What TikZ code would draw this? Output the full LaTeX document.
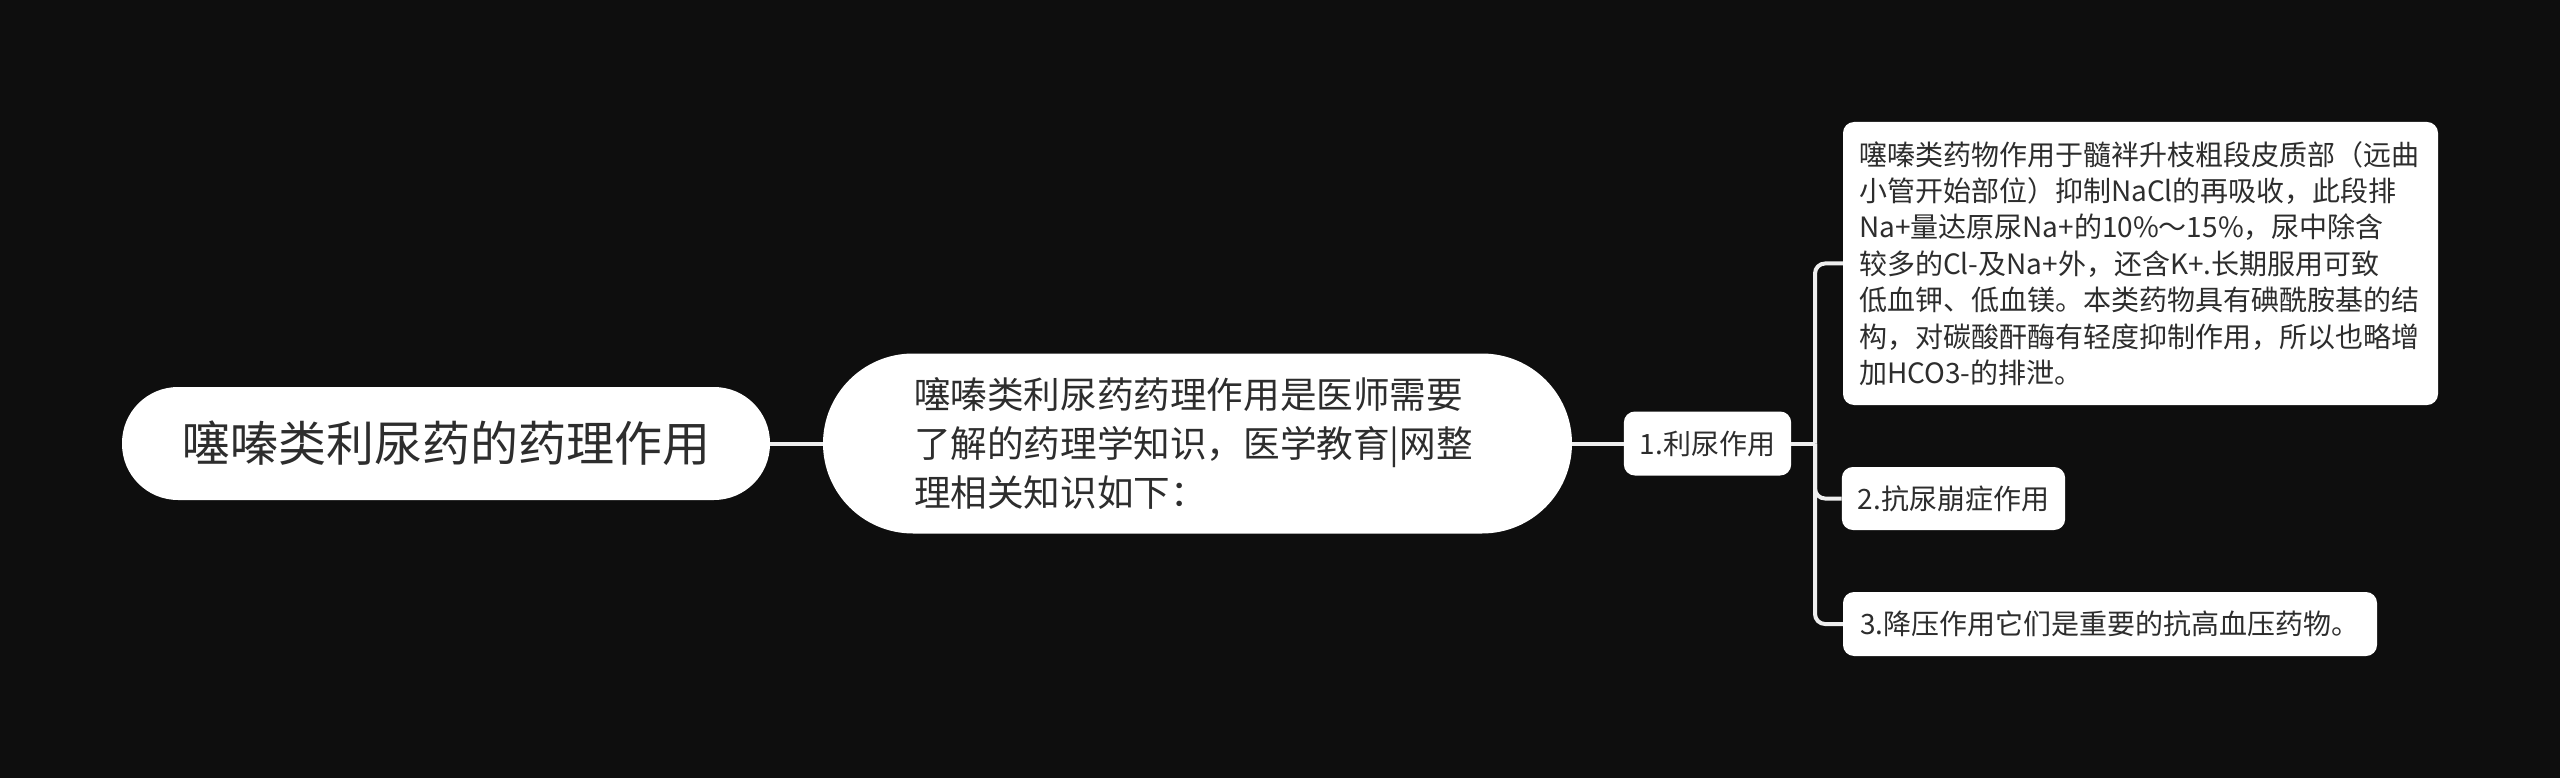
\documentclass[tikz,border=0pt]{standalone}
\usepackage{fontspec}
\newfontfamily\cjk{Noto Sans CJK SC}
\definecolor{bg}{RGB}{14,14,14}
\definecolor{tc}{RGB}{45,45,45}
\definecolor{lc}{RGB}{238,238,238}
\begin{document}
\begin{tikzpicture}[x=1pt,y=-1pt,
  box/.style={fill=white, text=tc, inner sep=0pt},
  rootbox/.style={box, rounded corners=56pt, minimum width=648pt, minimum height=113pt, font=\cjk\fontsize{48}{58}\selectfont},
  midbox/.style={box, rounded corners=90pt, minimum width=749pt, minimum height=180pt, text width=567pt, align=left, font=\cjk\fontsize{36.6}{49}\selectfont},
  leaf/.style={box, rounded corners=11pt, inner xsep=16pt, font=\cjk\fontsize{28}{36.4}\selectfont, align=left},
  link/.style={draw=lc, line width=4pt},
]
\fill[bg] (0,0) rectangle (2560,778);
\useasboundingbox (0,0) rectangle (2560,778);

\node[rootbox] (root) at (446,443.5) {噻嗪类利尿药的药理作用};
\node[midbox] (mid) at (1197.5,443.5) {噻嗪类利尿药药理作用是医师需要\\了解的药理学知识，医学教育|网整\\理相关知识如下：};
\node[leaf, minimum width=165pt, minimum height=64pt] (n1) at (1707.5,443.5) {1.利尿作用};
\node[leaf, minimum width=595pt, minimum height=283pt, text width=563pt] (a) at (2140.5,263.5) {噻嗪类药物作用于髓袢升枝粗段皮质部（远曲\\小管开始部位）抑制NaCl的再吸收，此段排\\Na+量达原尿Na+的10\%～15\%，尿中除含\\较多的Cl-及Na+外，还含K+.长期服用可致\\低血钾、低血镁。本类药物具有碘酰胺基的结\\构，对碳酸酐酶有轻度抑制作用，所以也略增\\加HCO3-的排泄。};
\node[leaf, minimum width=221pt, minimum height=63pt] (b) at (1953.5,498.5) {2.抗尿崩症作用};
\node[leaf, minimum width=534pt, minimum height=64pt] (c) at (2110,624) {3.降压作用它们是重要的抗高血压药物。};
\coordinate (jn) at (1815,443.5);

\draw[link] (root.east) -- (mid.west);
\draw[link] (mid.east) -- (n1.west);
\draw[link] (n1.east) -- (jn);
\draw[link, rounded corners=10pt] (a.west) -| (jn);
\draw[link, rounded corners=10pt] (b.west) -| (jn);
\draw[link, rounded corners=10pt] (c.west) -| (jn);
\end{tikzpicture}
\end{document}
